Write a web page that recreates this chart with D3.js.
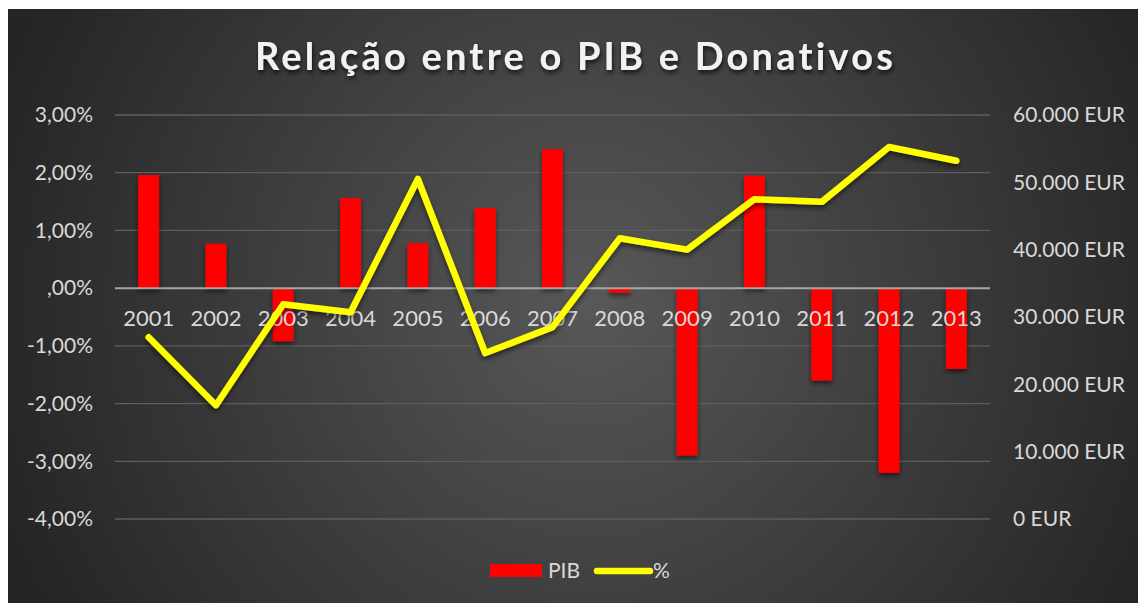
<!DOCTYPE html>
<html>
<head>
<meta charset="utf-8">
<script src="https://cdn.jsdelivr.net/npm/d3@7"></script>
<style>
  body { margin: 0; background: #fff; }
  text { font-family: Lato, "Open Sans", sans-serif; font-variant-ligatures: none; }
</style>
</head>
<body>
<div class="chart"></div>
<script>
// data
var years = ["2001", "2002", "2003", "2004", "2005", "2006", "2007",
  "2008", "2009", "2010", "2011", "2012", "2013"];
var pib = [1.96, 0.77, -0.92, 1.56, 0.78, 1.39, 2.41, -0.08, -2.9, 1.95, -1.6, -3.2, -1.4];
var donativos = [27000, 16900, 31900, 30700, 50500, 24650, 28500, 41700, 40000, 47500, 47100, 55250, 53200];
var leftTicks = [-4, -3, -2, -1, 0, 1, 2, 3];
var rightTicks = [0, 10000, 20000, 30000, 40000, 50000, 60000];

var svgWidth = 1138;
var svgHeight = 603;

var margin = { top: 115, right: 148, bottom: 84, left: 115 };
var width = svgWidth - margin.left - margin.right;
var height = svgHeight - margin.top - margin.bottom;

var svg = d3.select(".chart")
  .append("svg")
  .attr("width", svgWidth)
  .attr("height", svgHeight);

var defs = svg.append("defs");
var grad = defs.append("radialGradient")
  .attr("id", "bg")
  .attr("gradientUnits", "userSpaceOnUse")
  .attr("cx", 590).attr("cy", 300).attr("r", 620);
grad.append("stop").attr("offset", "0%").attr("stop-color", "#585858");
grad.append("stop").attr("offset", "100%").attr("stop-color", "#252525");

var shadow = defs.append("filter").attr("id", "shadow")
  .attr("x", "-30%").attr("y", "-30%").attr("width", "160%").attr("height", "160%");
shadow.append("feDropShadow")
  .attr("dx", 0).attr("dy", 3).attr("stdDeviation", 2.5)
  .attr("flood-color", "#000").attr("flood-opacity", 0.55);

var tshadow = defs.append("filter").attr("id", "tshadow")
  .attr("x", "-10%").attr("y", "-30%").attr("width", "120%").attr("height", "160%");
tshadow.append("feDropShadow")
  .attr("dx", 1).attr("dy", 3).attr("stdDeviation", 2)
  .attr("flood-color", "#000").attr("flood-opacity", 0.7);

svg.append("rect")
  .attr("x", 8).attr("y", 9)
  .attr("width", svgWidth - 8).attr("height", svgHeight - 9)
  .attr("fill", "url(#bg)");

svg.append("text")
  .attr("x", 574).attr("y", 70)
  .attr("text-anchor", "middle")
  .attr("textLength", 638)
  .attr("lengthAdjust", "spacing")
  .attr("filter", "url(#tshadow)")
  .style("font-size", "38px")
  .style("font-weight", "bold")
  .style("fill", "#f2f2f2")
  .text("Relação entre o PIB e Donativos");

var chartGroup = svg.append("g")
  .attr("transform", `translate(${margin.left}, ${margin.top})`);

// scales
var xScale = d3.scaleBand()
  .domain(years)
  .range([0, width])
  .paddingInner(0.69)
  .paddingOuter(0.345);

var xCenter = d3.scaleBand().domain(years).range([0, width]);

var yLeft = d3.scaleLinear().domain([-4, 3]).range([height, 0]);
var yRight = d3.scaleLinear().domain([0, 60000]).range([height, 0]);

// gridlines
chartGroup.append("g")
  .selectAll("line")
  .data(leftTicks.filter(d => d !== 0))
  .join("line")
    .attr("x1", 0).attr("x2", width)
    .attr("y1", d => yLeft(d)).attr("y2", d => yLeft(d))
    .attr("stroke", "#5e5e5e")
    .attr("stroke-width", 1.3);

// left axis
var leftAxis = d3.axisLeft(yLeft)
  .tickValues(leftTicks)
  .tickSize(0)
  .tickPadding(22)
  .tickFormat(d => d === 0 ? ",00%" : d.toFixed(2).replace(".", ",") + "%");

chartGroup.append("g")
  .call(leftAxis)
  .call(g => g.select(".domain").remove())
  .call(g => g.selectAll("text")
    .style("font-size", "21px")
    .style("fill", "#d9d9d9")
    .style("font-family", "Lato, sans-serif"));

// right axis
var rightAxis = d3.axisRight(yRight)
  .tickValues(rightTicks)
  .tickSize(0)
  .tickPadding(23)
  .tickFormat(d => d3.format(",")(d).replace(/,/g, ".") + " EUR");

chartGroup.append("g")
  .attr("transform", `translate(${width}, 0)`)
  .call(rightAxis)
  .call(g => g.select(".domain").remove())
  .call(g => g.selectAll("text")
    .style("font-size", "21px")
    .style("fill", "#d9d9d9")
    .style("font-family", "Lato, sans-serif"));

// bars
chartGroup.append("g")
  .attr("filter", "url(#shadow)")
  .selectAll("rect")
  .data(pib)
  .join("rect")
    .attr("x", (d, i) => xScale(years[i]))
    .attr("width", xScale.bandwidth())
    .attr("y", d => yLeft(Math.max(0, d)))
    .attr("height", d => Math.abs(yLeft(d) - yLeft(0)))
    .attr("fill", "#ff0000");

// zero line
chartGroup.append("line")
  .attr("x1", 0).attr("x2", width)
  .attr("y1", yLeft(0)).attr("y2", yLeft(0))
  .attr("stroke", "#a6a6a6")
  .attr("stroke-width", 2);

// category labels
var bottomAxis = d3.axisBottom(xCenter).tickSize(0).tickPadding(22);
chartGroup.append("g")
  .attr("transform", `translate(0, ${yLeft(0)})`)
  .call(bottomAxis)
  .call(g => g.select(".domain").remove())
  .call(g => g.selectAll("text")
    .style("font-size", "22px")
    .style("fill", "#d9d9d9")
    .style("font-family", "Lato, sans-serif"));

// line
var line = d3.line()
  .x((d, i) => xCenter(years[i]) + xCenter.bandwidth() / 2)
  .y(d => yRight(d));

chartGroup.append("path")
  .datum(donativos)
  .attr("d", line)
  .attr("fill", "none")
  .attr("stroke", "#ffff00")
  .attr("stroke-width", 6.5)
  .attr("stroke-linejoin", "round")
  .attr("stroke-linecap", "round")
  .attr("filter", "url(#shadow)");

// legend
var legend = svg.append("g");
legend.append("rect")
  .attr("x", 490).attr("y", 564)
  .attr("width", 52).attr("height", 13)
  .attr("fill", "#ff0000");
legend.append("text")
  .attr("x", 548).attr("y", 578)
  .style("font-size", "21px")
  .style("fill", "#d9d9d9")
  .text("PIB");
legend.append("line")
  .attr("x1", 597).attr("x2", 650)
  .attr("y1", 571).attr("y2", 571)
  .attr("stroke", "#ffff00")
  .attr("stroke-width", 6.5)
  .attr("stroke-linecap", "round");
legend.append("text")
  .attr("x", 653).attr("y", 578)
  .style("font-size", "21px")
  .style("fill", "#d9d9d9")
  .text("%");
</script>
</body>
</html>
